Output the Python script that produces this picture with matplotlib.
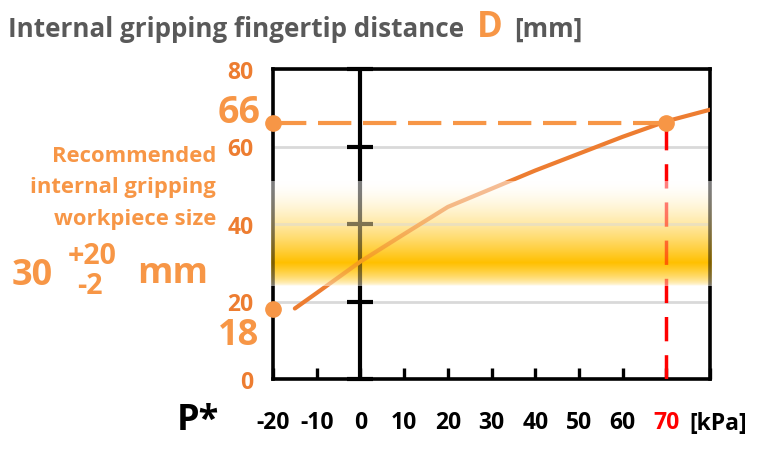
import matplotlib
matplotlib.use("Agg")
import matplotlib.pyplot as plt
import numpy as np
from matplotlib.colors import to_rgb

plt.rcParams["font.family"] = ["Open Sans", "DejaVu Sans"]
plt.rcParams["font.weight"] = "bold"

# data
pressure = [-15, -10, 0, 10, 20, 40, 60, 70, 80]        # kPa
distance = [18.2, 22.2, 30.3, 37.4, 44.4, 53.8, 62.5, 66.5, 69.5]  # mm
x_ticks = [-20, -10, 0, 10, 20, 30, 40, 50, 60, 70, 80]
x_labels = ["-20", "-10", "0", "10", "20", "30", "40", "50", "60", "70", ""]
y_ticks = [0, 20, 40, 60, 80]
mark_p = 70          # kPa
mark_d = [66, 18]    # mm, highlighted on the left edge
band_top, band_peak, band_bottom = 51, 30, 24

ORANGE = "#ed7d31"
LIGHT_ORANGE = "#f79646"
GOLD = "#ffc000"
GREY = "#595959"

W, H = 768, 452


def px(x, y):
    """pixel position (top-left origin) -> figure fraction"""
    return x / W, 1 - y / H


fig = plt.figure(figsize=(W / 100, H / 100), dpi=100)
ax = fig.add_axes([273 / W, 1 - 380 / H, (710 - 273) / W, (380 - 70) / H])

for s in ax.spines.values():
    s.set_linewidth(2.6)
    s.set_color("black")

ax.set_axisbelow(True)
ax.set_yticks(y_ticks)
ax.yaxis.grid(True, color="#d9d9d9", lw=2)
ax.tick_params(axis="y", length=0, pad=14, labelsize=16.5, labelcolor=ORANGE)
ax.set_xticks(x_ticks, x_labels)
ax.tick_params(axis="x", direction="in", length=8, width=2.4, pad=22,
               labelsize=16.5, labelcolor="black")
ax.get_xticklabels()[x_ticks.index(mark_p)].set_color("red")

# recommended size band: opaque base + translucent overlay
ys = np.linspace(band_bottom, band_top, 200)
w = np.where(ys >= band_peak,
             ((band_top - ys) / (band_top - band_peak)) ** 1.6,
             ((ys - band_bottom) / (band_peak - band_bottom)) ** 0.6)
gold = np.array(to_rgb(GOLD))
rgb = (1 - w[:, None]) * 1.0 + w[:, None] * gold
base = np.concatenate([rgb, np.ones((len(ys), 1))], axis=1)[:, None, :]
top = np.concatenate([rgb, np.full((len(ys), 1), 0.5)], axis=1)[:, None, :]
ext = [-20.4, 80.4, band_bottom, band_top]
ax.imshow(base, extent=ext, origin="lower", aspect="auto", zorder=0.2)
ax.imshow(top, extent=ext, origin="lower", aspect="auto", zorder=6,
          clip_on=False)
ax.set_xlim(-20, 80)
ax.set_ylim(0, 80)

# vertical axis at P = 0 with cross ticks
ax.axvline(0, color="black", lw=3, zorder=3)
ax.plot(np.zeros(len(y_ticks)), y_ticks, ls="none", marker="_", ms=19,
        mew=3, color="black", zorder=3, clip_on=False)

ax.plot(pressure, distance, color=ORANGE, lw=3, zorder=4,
        solid_capstyle="round")
ax.plot([x_ticks[0], mark_p], [mark_d[0], mark_d[0]], color=LIGHT_ORANGE,
        lw=3, ls=(0, (8, 2.8)), zorder=4)
ax.plot([mark_p, mark_p], [0, mark_d[0]], color="red", lw=2.5,
        ls=(0, (7, 4)), zorder=4)
ax.plot([mark_p], [mark_d[0]], "o", ms=11, color=LIGHT_ORANGE, zorder=7)
ax.plot([x_ticks[0]] * 2, mark_d, "o", ms=11, color=LIGHT_ORANGE,
        zorder=7, clip_on=False)

# big value labels
fig.text(*px(261, 113), str(mark_d[0]), fontsize=27, color=LIGHT_ORANGE,
         ha="right", va="center")
fig.text(*px(259, 336), str(mark_d[1]), fontsize=26, color=LIGHT_ORANGE,
         ha="right", va="center")

# title
fig.text(*px(8, 37), "Internal gripping fingertip distance", fontsize=18.7,
         color=GREY, va="baseline")
fig.text(*px(477, 37), "D", fontsize=25, color=LIGHT_ORANGE, va="baseline")
fig.text(*px(514, 37), "[mm]", fontsize=18.7, color=GREY, va="baseline")

# left note
for txt, y in zip(["Recommended", "internal gripping", "workpiece size"],
                  [156, 188, 220]):
    fig.text(*px(216, y), txt, fontsize=15.8, color=LIGHT_ORANGE,
             ha="right", va="center")
fig.text(*px(12, 276), "30", fontsize=26, color=LIGHT_ORANGE, va="center")
fig.text(*px(92, 256), "+20", fontsize=20.5, color=LIGHT_ORANGE,
         ha="center", va="center")
fig.text(*px(90, 287), "-2", fontsize=20.5, color=LIGHT_ORANGE,
         ha="center", va="center")
fig.text(*px(137, 274), "mm", fontsize=26, color=LIGHT_ORANGE, va="center")

# x axis extras
fig.text(*px(177, 421), "P*", fontsize=26, color="black", va="center")
fig.text(*px(689, 412), "[kPa]", fontsize=16.5, color="black", va="top")

fig.savefig("out.png", dpi=100)
